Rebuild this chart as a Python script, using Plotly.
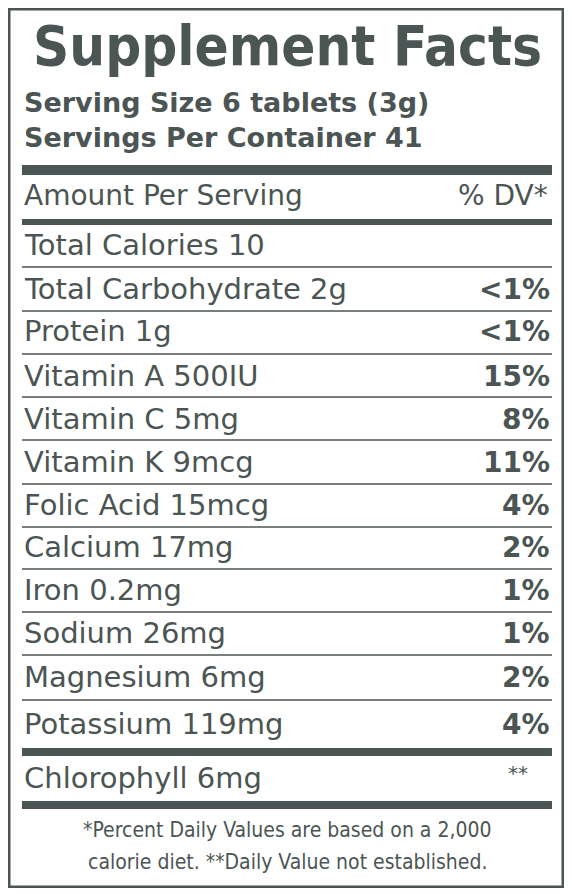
import plotly.graph_objects as go

nutrients = ["Total Calories 10", "Total Carbohydrate 2g", "Protein 1g", "Vitamin A 500IU",
             "Vitamin C 5mg", "Vitamin K 9mcg", "Folic Acid 15mcg", "Calcium 17mg",
             "Iron 0.2mg", "Sodium 26mg", "Magnesium 6mg", "Potassium 119mg"]
dv = ["", "<1%", "<1%", "15%", "8%", "11%", "4%", "2%", "1%", "1%", "2%", "4%"]
row_y = [245, 289, 331, 376, 419, 462, 505, 547, 590, 633, 677, 724]
sep_y = [267, 311, 354, 397, 440, 484, 527, 569, 612, 655, 700]

C = "#4b5553"
F = "DejaVu Sans"
FC = "DejaVu Sans Condensed"
fig = go.Figure()
fig.add_trace(go.Scatter(x=[300], y=[300], mode="markers", marker=dict(opacity=0), hoverinfo="skip"))
shapes = [dict(type="rect", x0=9, x1=563, y0=9, y1=887, line=dict(color=C, width=3))]
def bar(y, h):
    shapes.append(dict(type="rect", x0=22, x1=552, y0=y - h / 2, y1=y + h / 2, fillcolor=C, line=dict(width=0)))
bar(170, 10); bar(222, 6); bar(752, 8); bar(805, 8)
for y in sep_y:
    shapes.append(dict(type="line", x0=22, x1=552, y0=y, y1=y, line=dict(color=C, width=1.5)))
ann = []
def t(x, y, s, size, anchor="left", bold=False, fam=F):
    ann.append(dict(x=x, y=y, text=f"<b>{s}</b>" if bold else s, showarrow=False, xanchor=anchor,
                    yanchor="middle", font=dict(family=fam, size=size, color=C)))
t(287, 45, "Supplement Facts", 56, "center", True, FC)
t(22, 102, "Serving Size 6 tablets (3g)", 27, bold=True, fam=F)
t(22, 137, "Servings Per Container 41", 27, bold=True, fam=F)
t(22, 195, "Amount Per Serving", 28)
t(550, 195, "% DV*", 28, "right")
for n, d, y in zip(nutrients, dv, row_y):
    t(22, y, n, 29)
    if d:
        t(552, y, d, 28, "right", True)
t(22, 778, "Chlorophyll 6mg", 29)
t(530, 773, "**", 20, "right")
t(287, 830, "*Percent Daily Values are based on a 2,000", 21, "center", fam=FC)
t(287, 862, "calorie diet. **Daily Value not established.", 21, "center", fam=FC)
fig.update_layout(width=556, height=880, margin=dict(l=0, r=0, t=0, b=0),
                  paper_bgcolor="white", plot_bgcolor="white", showlegend=False,
                  shapes=shapes, annotations=ann,
                  xaxis=dict(range=[8, 564], visible=False, fixedrange=True),
                  yaxis=dict(range=[888, 8], visible=False, fixedrange=True))
fig.write_html("out.html", config={"displayModeBar": False})
